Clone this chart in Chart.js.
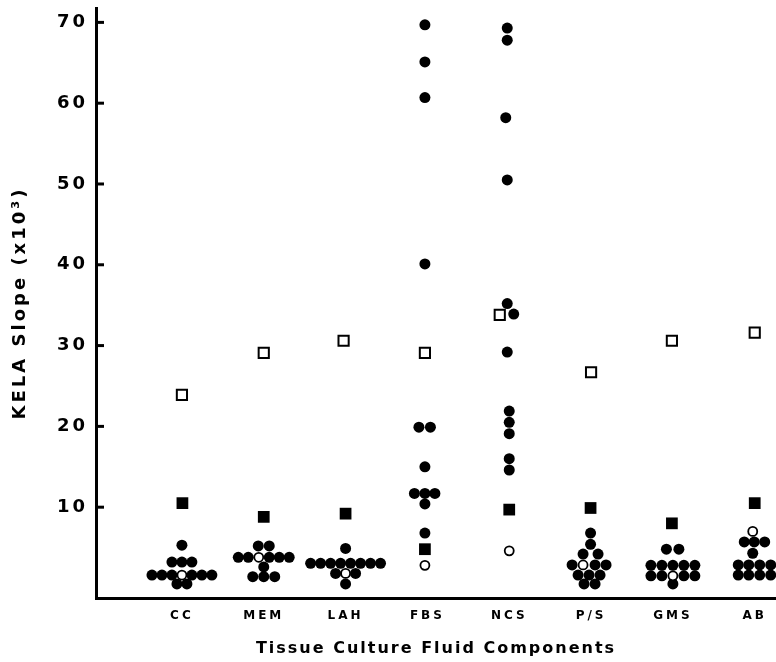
<!DOCTYPE html>
<html>
<head>
<meta charset="utf-8">
<script src="https://cdn.jsdelivr.net/npm/chart.js@4/dist/chart.umd.min.js"></script>
<style>
  html, body { margin: 0; padding: 0; background: #fff; }
</style>
</head>
<body>
<canvas id="chartKela" width="776" height="662"></canvas>
<script>
const categorias = ["CC", "MEM", "LAH", "FBS", "NCS", "P/S", "GMS", "AB"]
const ticksY = [10, 20, 30, 40, 50, 60, 70]

// quadrado aberto / quadrado cheio / bolinha aberta: um valor por componente
const quadAbertoValores = [23.9, 29.1, 30.6, 29.1, 33.8, 26.7, 30.6, 31.6]
const quadAbertoSlots = [0, 0, -0.2, -0.25, -0.95, 0, -0.1, 0]

const quadCheioValores = [10.5, 8.8, 9.2, 4.8, 9.7, 9.9, 8.0, 10.5]
const quadCheioSlots = [0.05, 0, 0, -0.25, 0, -0.05, -0.1, 0]

const bolaAbertaValores = [1.6, 3.8, 1.8, 2.8, 4.6, 2.85, 1.5, 7.0]
const bolaAbertaSlots = [0, -0.5, 0, -0.25, 0, -0.8, 0, -0.2]

// bolinhas cheias: varios valores por componente
const bolaCheiaValores = [
  [5.3, 3.2, 3.2, 3.2, 1.6, 1.6, 1.6, 1.6, 1.6, 1.6, 0.5, 0.5],
  [5.2, 5.2, 3.8, 3.8, 3.8, 3.8, 3.8, 2.6, 1.4, 1.4, 1.4],
  [4.9, 3.05, 3.05, 3.05, 3.05, 3.05, 3.05, 3.05, 3.05, 1.8, 1.8, 0.5],
  [69.7, 65.1, 60.7, 40.1, 19.9, 19.9, 15.0, 11.7, 11.7, 11.7, 10.4, 6.8],
  [69.3, 67.8, 58.2, 50.5, 35.2, 33.9, 29.2, 21.9, 20.5, 19.1, 16.0, 14.6],
  [6.8, 5.4, 4.2, 4.2, 2.85, 2.85, 2.85, 1.6, 1.6, 1.6, 0.5, 0.5],
  [4.8, 4.8, 2.8, 2.8, 2.8, 2.8, 2.8, 1.5, 1.5, 1.5, 1.5, 0.5],
  [5.7, 5.7, 5.7, 4.3, 2.85, 2.85, 2.85, 2.85, 1.6, 1.6, 1.6, 1.6]
]
const bolaCheiaSlots = [
  [0, -1, 0, 1, -3, -2, -1, 1, 2, 3, -0.5, 0.5],
  [-0.55, 0.55, -2.55, -1.55, 0.55, 1.55, 2.55, 0, -1.1, 0, 1.1],
  [0, -3.5, -2.5, -1.5, -0.5, 0.5, 1.5, 2.5, 3.5, -1, 1, 0],
  [-0.25, -0.25, -0.25, -0.25, -0.85, 0.3, -0.25, -1.3, -0.25, 0.75, -0.25, -0.25],
  [-0.2, -0.2, -0.35, -0.2, -0.2, 0.45, -0.2, 0, 0, 0, 0, 0],
  [-0.05, -0.05, -0.8, 0.7, -1.9, 0.4, 1.5, -1.3, -0.2, 0.9, -0.7, 0.4],
  [-0.65, 0.6, -2.2, -1.1, 0, 1.1, 2.2, -2.2, -1.1, 1.1, 2.2, 0],
  [-1.05, -0.05, 1, -0.2, -1.65, -0.6, 0.5, 1.6, -1.65, -0.6, 0.5, 1.6]
]

const passo = 0.122 // distancia entre bolinhas encostadas, em unidades de categoria

function pontosGrupo(valores, slots) {
  const lista = []
  valores.forEach((grupo, i) => {
    grupo.forEach((v, j) => lista.push({ x: i + 1 + slots[i][j] * passo, y: v }))
  })
  return lista
}

function pontosUnicos(valores, slots) {
  return valores.map((v, i) => ({ x: i + 1 + slots[i] * passo, y: v }))
}

function semPadding(scale) {
  scale.paddingTop = 0
  scale.paddingBottom = 0
  scale.paddingLeft = 0
  scale.paddingRight = 0
}

// espacamento entre letras: 3px nos textos do eixo, 2px no titulo de baixo
// (o titulo do eixo X vai numa camada desenhada depois dos pontos)
const espacamento = {
  id: "espacamento",
  beforeDraw(chart) {
    chart.ctx.letterSpacing = "3px"
  },
  afterDatasetsDraw(chart) {
    chart.ctx.letterSpacing = "2px"
  }
}

// marcas do eixo Y para dentro do grafico
const marcasInternas = {
  id: "marcasInternas",
  afterDraw(chart) {
    const ctx = chart.ctx
    const y = chart.scales.y
    const esquerda = chart.chartArea.left
    ctx.save()
    ctx.strokeStyle = "#000"
    ctx.lineWidth = 3
    ticksY.forEach(t => {
      const py = y.getPixelForValue(t)
      ctx.beginPath()
      ctx.moveTo(esquerda, py)
      ctx.lineTo(esquerda + 8, py)
      ctx.stroke()
    })
    ctx.restore()
  }
}

new Chart(document.getElementById("chartKela"), {
  type: "scatter",
  data: {
    datasets: [
      {
        label: "bola aberta",
        data: pontosUnicos(bolaAbertaValores, bolaAbertaSlots),
        pointStyle: "circle",
        pointRadius: 4.5,
        backgroundColor: "#fff",
        borderColor: "#000",
        borderWidth: 1.8
      },
      {
        label: "bola cheia",
        data: pontosGrupo(bolaCheiaValores, bolaCheiaSlots),
        pointStyle: "circle",
        pointRadius: 5.5,
        backgroundColor: "#000",
        borderColor: "#000",
        borderWidth: 0
      },
      {
        label: "quadrado cheio",
        data: pontosUnicos(quadCheioValores, quadCheioSlots),
        pointStyle: "rect",
        pointRadius: 8.3,
        backgroundColor: "#000",
        borderColor: "#000",
        borderWidth: 0
      },
      {
        label: "quadrado aberto",
        data: pontosUnicos(quadAbertoValores, quadAbertoSlots),
        pointStyle: "rect",
        pointRadius: 7.2,
        backgroundColor: "#fff",
        borderColor: "#000",
        borderWidth: 2
      }
    ]
  },
  options: {
    responsive: false,
    animation: false,
    devicePixelRatio: 1,
    clip: false,
    layout: { autoPadding: false, padding: { top: 8, right: 0, left: 0, bottom: 0 } },
    plugins: {
      legend: { display: false },
      tooltip: { enabled: false }
    },
    scales: {
      x: {
        type: "linear",
        min: -0.05,
        max: 8.26,
        grid: { display: false, drawTicks: false, z: 1 },
        border: { display: true, color: "#000", width: 3, z: 2 },
        afterBuildTicks: scale => {
          scale.ticks = categorias.map((c, i) => ({ value: i + 1 }))
        },
        afterFit: scale => {
          scale.height = 64
          semPadding(scale)
        },
        ticks: {
          color: "#000",
          padding: 11,
          maxRotation: 0,
          autoSkip: false,
          font: { family: "DejaVu Sans", weight: "bold", size: 12 },
          callback: v => categorias[v - 1] || ""
        },
        title: {
          display: true,
          text: "Tissue Culture Fluid Components",
          color: "#000",
          padding: { top: 4, bottom: 4 },
          font: { family: "DejaVu Sans", weight: "bold", size: 16 }
        }
      },
      y: {
        min: -1.24,
        max: 71.78,
        grid: { display: false, drawTicks: false },
        border: { display: true, color: "#000", width: 3 },
        afterBuildTicks: scale => {
          scale.ticks = ticksY.map(v => ({ value: v }))
        },
        afterFit: scale => {
          scale.width = 96
          semPadding(scale)
        },
        ticks: {
          color: "#000",
          padding: 8,
          font: { family: "DejaVu Sans", weight: "bold", size: 18 }
        },
        title: {
          display: true,
          text: "KELA Slope (x10³)",
          color: "#000",
          padding: { top: 10, bottom: 10 },
          font: { family: "DejaVu Sans", weight: "bold", size: 18 }
        }
      }
    }
  },
  plugins: [espacamento, marcasInternas]
})
</script>
</body>
</html>
